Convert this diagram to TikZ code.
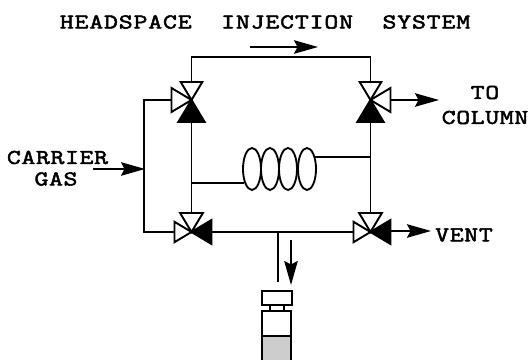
\documentclass[tikz,border=0pt]{standalone}
\usepackage{fontspec}
\usepackage{tikz}
\usetikzlibrary{arrows.meta,calc,positioning,shapes.geometric}
\newfontfamily\labelfont[LetterSpace=3,FakeStretch=1.28,FakeBold=2.5]{Latin Modern Mono}
\newfontfamily\titlefont[LetterSpace=4,FakeStretch=1.28,FakeBold=2.5]{Latin Modern Mono}
\definecolor{liquidgray}{RGB}{205,205,205}
% one triangular port of a valve
\newcommand{\valveport}[5]{
 \coordinate (#2) at ($(#1)+(#3:#4)$);
 \draw[#5] (#1) -- ($(#2)+(#3+90:.6*#4)$)
  -- ($(#2)+(#3-90:.6*#4)$) -- cycle;
}
\tikzset{
 pipe/.style={line width=1.05pt},
 openport/.style={line width=1.1pt,fill=white,line join=miter},
 shutport/.style={line width=1.1pt,fill=black,line join=miter},
 flow/.style={line width=1.05pt,-{Stealth[length=.48cm,width=.27cm,inset=.07cm]}},
 caption/.style={font=\labelfont\fontsize{12}{14.4}\selectfont,align=center,inner sep=0pt},
 coilturn/.style={draw,ellipse,line width=1.05pt,minimum width=.36cm,
  minimum height=.84cm,inner sep=0pt},
 vialpart/.style={draw,line width=1.05pt,inner sep=0pt}
}
\begin{document}
\begin{tikzpicture}[>=Stealth]
 \useasboundingbox (0,0) rectangle (10.6,7.2);
 % valves
 \coordinate (tl) at (3.83,5.2);
 \coordinate (tr) at (7.41,5.2);
 \coordinate (bl) at (3.83,2.56);
 \coordinate (br) at (7.41,2.56);
 \coordinate (tltop) at (3.83,6.06);
 \coordinate (trtop) at (7.41,6.06);
 \coordinate (busb) at (2.88,2.56);
 \coordinate (branch) at (5.56,2.56);
 \coordinate (branchend) at (5.56,1.56);
 % pipes
 \draw[pipe] (tl)--(tltop)--(trtop)--(tr);
 \draw[pipe] (tl)-|(busb)--(bl);
 \draw[pipe] (tl)--(bl);
 \draw[pipe] (tr)--(br);
 \draw[pipe] (bl)--(br);
 \draw[pipe] (branch)--(branchend);
 % ports
 \valveport{tl}{tlN}{90}{.36}{openport}
 \valveport{tl}{tlW}{180}{.40}{openport}
 \valveport{tl}{tlS}{270}{.44}{shutport}
 \valveport{tr}{trN}{90}{.36}{openport}
 \valveport{tr}{trE}{0}{.40}{openport}
 \valveport{tr}{trS}{270}{.44}{shutport}
 \valveport{bl}{blN}{90}{.38}{openport}
 \valveport{bl}{blW}{180}{.34}{openport}
 \valveport{bl}{blE}{0}{.40}{shutport}
 \valveport{br}{brN}{90}{.38}{openport}
 \valveport{br}{brW}{180}{.34}{openport}
 \valveport{br}{brE}{0}{.40}{shutport}
 % coil
 \foreach \i/\x in {1/5.04,2/5.40,3/5.76,4/6.14}
  \node[coilturn] (coil\i) at (\x,3.82) {};
 \draw[pipe] (coil1.242)--(coil1.242 -| tl);
 \draw[pipe] (coil4.55)--(coil4.55 -| tr);
 % flow arrows
 \coordinate (flowa) at (5,6.26);
 \coordinate (flowb) at (6.36,6.26);
 \coordinate (gasin) at (1.86,3.82);
 \coordinate (gastip) at (2.9,3.82);
 \coordinate (columntip) at (8.78,5.2);
 \coordinate (venttip) at (8.62,2.58);
 \coordinate (ventfrom) at ($(brE)+(0,.02)$);
 \coordinate (sampa) at (5.82,2.4);
 \coordinate (sampb) at (5.82,1.5);
 \draw[flow] (flowa)--(flowb);
 \draw[flow] (gasin)--(gastip);
 \draw[flow] (trE)--(columntip);
 \draw[flow] (ventfrom)--(venttip);
 \draw[flow] (sampa)--(sampb);
 % vial
 \node[vialpart,minimum width=.6cm,minimum height=.28cm] (vialcap) at (5.54,1.24) {};
 \node[vialpart,minimum width=.28cm,minimum height=.12cm] (vialneck) at (5.54,1.04) {};
 \node[vialpart,minimum width=.58cm,minimum height=.5cm] (vialbody) at (5.53,.73) {};
 \node[vialpart,fill=liquidgray,minimum width=.58cm,minimum height=.5cm] (vialliquid) at (5.53,.23) {};
 % labels
 \node[caption,font=\titlefont\fontsize{12}{14.4}\selectfont] (title) at (5.3,6.76) {HEADSPACE~~INJECTION~~SYSTEM};
 \node[caption] (carrier) at (1.15,4.05) {CARRIER};
 \node[caption] (gas) at (1.12,3.62) {GAS};
 \node[caption] (to) at (9.7,5.35) {TO};
 \node[caption] (column) at (9.7,4.85) {COLUMN};
 \node[caption] (vent) at (9.28,2.5) {VENT};
\end{tikzpicture}
\end{document}
